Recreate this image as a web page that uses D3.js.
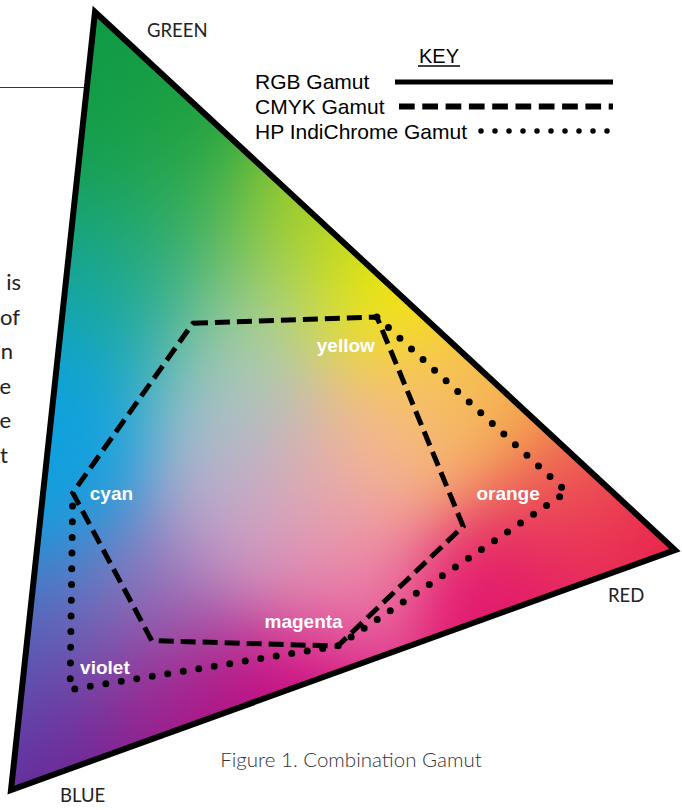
<!DOCTYPE html>
<html>
<head>
<meta charset="utf-8">
<script src="https://cdn.jsdelivr.net/npm/d3@7"></script>
<style>
  body { margin: 0; background: #fff; }
  svg { display: block; }
</style>
</head>
<body>
<script>
var width = 682,
    height = 810;

// chart coordinates run 0..100 on both axes
var vertexNames = ['GREEN', 'RED', 'BLUE'];
var vertexX = [12.65, 100, 0];
var vertexY = [100, 30.85, 0];

var cmykNames = ['', 'yellow', '', 'magenta', '', 'cyan'];
var cmykX = [27.4, 55.1, 68.1, 49.2, 21.2, 9.3];
var cmykY = [60.0, 60.8, 33.9, 18.5, 19.2, 38.2];

// only the part of the IndiChrome gamut that differs from CMYK is dotted
var indiNames = ['yellow', 'orange', 'magenta', 'violet', 'cyan'];
var indiX = [55.1, 83.7, 49.2, 8.9, 9.3];
var indiY = [60.8, 38.3, 18.5, 12.9, 38.2];

var keyLabels = ['RGB Gamut', 'CMYK Gamut', 'HP IndiChrome Gamut'];

// colour samples
var swatchX = [13.4, 24.7, 43.5, 57.1, 70.6, 85.7, 97.7, 73.6, 43.5, 10.5, 2.9, 4.4, 7.4, 11.9,
               33.0, 49.5, 36.0, 49.5, 20.9, 34.5, 61.6, 25.5, 82.7, 28.5, 16.4, 16.0, 3.5, 7.0, 20.9, 5.0];
var swatchY = [97.7, 88.7, 73.3, 63.6, 50.1, 39.2, 31.5, 24.4, 11.6, 3.0, 11.6, 37.3, 52.7, 69.4,
               47.6, 41.1, 34.7, 27.0, 24.4, 60.4, 47.6, 72.0, 29.6, 9.0, 78.4, 63.0, 45.0, 22.0, 12.0, 86.0];
var swatchColor = ['#109a45', '#1ca040', '#a8d020', '#f8ec00', '#f6b840', '#ef6a50', '#e81848',
                   '#e00c70', '#d4067e', '#6a1c90', '#5a4cb0', '#10a0e0', '#0ca2dc', '#10a49a',
                   '#a0c0d0', '#f4b0a0', '#c8a4cc', '#ee80a8', '#9c7cbc', '#b4d4a0', '#f6c088',
                   '#40b058', '#e82c60', '#b00a82', '#18a040', '#14a8a8', '#0ea0e0', '#5070c0',
                   '#a02890', '#0e9a50'];

var leftWords = ['is', 'of', 'n', 'e', 'e', 't'];

var x = d3.scaleLinear().domain([0, 100]).range([11, 675]);
var y = d3.scaleLinear().domain([0, 100]).range([790, 12]);

var svg = d3.select('body').append('svg')
    .attr('width', width)
    .attr('height', height);

// ---- colour fill (rendered pixel by pixel on a canvas) ----
var canvas = document.createElement('canvas');
canvas.width = width;
canvas.height = height;
var ctx = canvas.getContext('2d');
var img = ctx.createImageData(width, height);

var sw = swatchX.map(function(d, i) {
  var c = d3.rgb(swatchColor[i]);
  return { px: x(d), py: y(swatchY[i]), r: c.r, g: c.g, b: c.b };
});
var sigma2 = 2 * 62 * 62;

for (var py = 0; py < height; py++) {
  for (var px = 0; px < width; px++) {
    var ws = 0, r = 0, g = 0, b = 0;
    for (var k = 0; k < sw.length; k++) {
      var dx = px - sw[k].px, dy = py - sw[k].py;
      var w = Math.exp(-(dx * dx + dy * dy) / sigma2) + 1e-12;
      ws += w; r += w * sw[k].r; g += w * sw[k].g; b += w * sw[k].b;
    }
    var idx = (py * width + px) * 4;
    img.data[idx] = r / ws;
    img.data[idx + 1] = g / ws;
    img.data[idx + 2] = b / ws;
    img.data[idx + 3] = 255;
  }
}
ctx.putImageData(img, 0, 0);

var triPts = vertexX.map(function(d, i) { return [x(d), y(vertexY[i])]; });

svg.append('clipPath').attr('id', 'tri')
  .append('polygon')
    .attr('points', triPts.map(function(p) { return p.join(','); }).join(' '));

svg.append('image')
    .attr('href', canvas.toDataURL())
    .attr('width', width)
    .attr('height', height)
    .attr('clip-path', 'url(#tri)');

// ---- RGB triangle ----
svg.append('polygon')
    .attr('points', triPts.map(function(p) { return p.join(','); }).join(' '))
    .attr('fill', 'none')
    .attr('stroke', '#000')
    .attr('stroke-width', 6)
    .attr('stroke-linejoin', 'miter');

// ---- CMYK gamut (dashed) ----
var line = d3.line().x(function(d) { return x(d[0]); }).y(function(d) { return y(d[1]); });

svg.append('path')
    .attr('d', line(cmykX.map(function(d, i) { return [d, cmykY[i]]; })) + 'Z')
    .attr('fill', 'none')
    .attr('stroke', '#000')
    .attr('stroke-width', 5)
    .attr('stroke-dasharray', '15 7');

// ---- IndiChrome gamut (dotted) ----
svg.append('path')
    .attr('d', line(indiX.map(function(d, i) { return [d, indiY[i]]; })))
    .attr('fill', 'none')
    .attr('stroke', '#000')
    .attr('stroke-width', 7)
    .attr('stroke-linecap', 'round')
    .attr('stroke-dasharray', '0 15.7');

// ---- colour labels, placed next to their gamut vertex ----
var labelOffset = {
  yellow: [-2, 35, 'end'],
  orange: [-27, 8, 'end'],
  magenta: [5, -18, 'end'],
  violet: [10, -16, 'start'],
  cyan: [17, 7, 'start']
};

svg.selectAll('.colorLabel')
    .data(indiNames)
  .enter().append('text')
    .attr('class', 'colorLabel')
    .attr('x', function(d, i) { return x(indiX[i]) + labelOffset[d][0]; })
    .attr('y', function(d, i) { return y(indiY[i]) + labelOffset[d][1]; })
    .attr('text-anchor', function(d) { return labelOffset[d][2]; })
    .attr('fill', '#fff')
    .style('font', 'bold 19px "Liberation Sans", Arial, sans-serif')
    .text(function(d) { return d; });

// ---- vertex names ----
var vertexOffset = [[52, 25, 'start'], [-67, 52, 'start'], [49, 12, 'start']];

svg.selectAll('.vertexLabel')
    .data(vertexNames)
  .enter().append('text')
    .attr('class', 'vertexLabel')
    .attr('x', function(d, i) { return x(vertexX[i]) + vertexOffset[i][0]; })
    .attr('y', function(d, i) { return y(vertexY[i]) + vertexOffset[i][1]; })
    .attr('fill', '#222')
    .style('font', '18.5px Lato, "Open Sans", sans-serif')
    .text(function(d) { return d; });

// ---- key ----
var key = svg.append('g');

key.append('text')
    .attr('x', 439).attr('y', 63)
    .attr('text-anchor', 'middle')
    .style('font', '20px "Liberation Sans", Arial, sans-serif')
    .text('KEY');
key.append('line')
    .attr('x1', 418).attr('x2', 460)
    .attr('y1', 66).attr('y2', 66)
    .attr('stroke', '#000').attr('stroke-width', 1.5);

var keyStyles = [
  { x1: 395, w: 5, dash: null, cap: 'butt' },
  { x1: 399, w: 6, dash: '15.7 7.6', cap: 'butt' },
  { x1: 481, w: 5.5, dash: '0 14', cap: 'round' }
];

keyLabels.forEach(function(d, i) {
  var yy = 89 + i * 25;
  key.append('text')
      .attr('x', 255).attr('y', yy)
      .style('font', '21px "Liberation Sans", Arial, sans-serif')
      .text(d);
  key.append('line')
      .attr('x1', keyStyles[i].x1).attr('x2', 613)
      .attr('y1', yy - 7 - i * 0.5).attr('y2', yy - 7 - i * 0.5)
      .attr('stroke', '#000')
      .attr('stroke-width', keyStyles[i].w)
      .attr('stroke-linecap', keyStyles[i].cap)
      .attr('stroke-dasharray', keyStyles[i].dash);
});

// ---- caption ----
svg.append('text')
    .attr('x', 351).attr('y', 767)
    .attr('text-anchor', 'middle')
    .attr('fill', '#333')
    .style('font', '20.5px Lato, "Open Sans", sans-serif')
    .style('font-weight', 300)
    .text('Figure 1. Combination Gamut');

// ---- cut-off body text and rule on the left ----
svg.append('line')
    .attr('x1', 0).attr('x2', 84)
    .attr('y1', 87.5).attr('y2', 87.5)
    .attr('stroke', '#333').attr('stroke-width', 1);

var leftRight = [21, 20, 13, 11, 11, 8];
svg.selectAll('.bodyText')
    .data(leftWords)
  .enter().append('text')
    .attr('class', 'bodyText')
    .attr('x', function(d, i) { return leftRight[i]; })
    .attr('y', function(d, i) { return 290 + i * 34.5; })
    .attr('text-anchor', 'end')
    .attr('fill', '#222')
    .style('font', '22px Lato, "Open Sans", sans-serif')
    .text(function(d) { return d; });
</script>
</body>
</html>
